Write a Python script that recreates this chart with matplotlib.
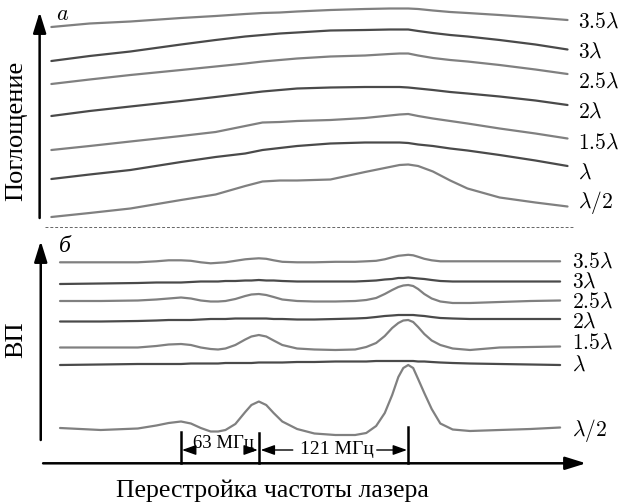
import matplotlib.pyplot as plt

plt.rcParams['mathtext.fontset'] = 'cm'
SERIF = 'Liberation Serif'

# laser detuning, MHz (0 = first resonance)
top_freq = [-105, -74, -41, 0, 28, 52, 66, 80, 94, 121, 149, 169, 177, 184, 192, 204,
            218, 232, 258, 287, 313]
bot_freq = [-98, -65, -35, -20, -10, 0, 8, 16, 24, 30, 36, 44, 52, 57, 63, 69, 75, 82, 94,
            108, 125, 141, 150, 158, 165, 171, 176, 180, 184, 188, 192, 197, 203, 210,
            220, 234, 258, 283, 307]

labels = [r'$3.5\lambda$', r'$3\lambda$', r'$2.5\lambda$', r'$2\lambda$',
          r'$1.5\lambda$', r'$\lambda$', r'$\lambda/2$']

# (a) absorption, arbitrary units, one row per cell length
absorp = [
    [0, 3.5, 5.5, 9, 11, 13, 14, 14.5, 15.5, 17, 18, 18.5, 18.5, 18.5, 18, 16.5, 15, 14,
     12, 9.5, 7],
    [0, 5, 9.5, 16.5, 21, 24.5, 26, 27.5, 28.5, 30.5, 31, 31.5, 31.5, 31.5, 30, 28, 26,
     24.5, 21, 16.5, 11.5],
    [0, 4.5, 9, 14, 17.5, 20.5, 22.5, 24, 25.5, 27.5, 28.5, 30, 30.5, 30.5, 28.5, 26, 24,
     22.5, 19, 14.5, 10],
    [0, 5, 9.5, 15, 19, 22.5, 24.5, 26, 27.5, 28.5, 29, 29, 29, 28.5, 27.5, 26, 24, 22.5,
     19.5, 15.5, 11],
    [0, 4, 8.5, 14, 18, 24, 27.5, 28, 29, 30, 32, 34.5, 35.5, 36, 34, 31.5, 29, 26.5,
     21.5, 16.5, 11.5],
    [0, 4.5, 9, 17, 22, 25.5, 29, 31, 33, 35.5, 36.5, 36.5, 36.5, 36, 34.5, 33, 30.5,
     28.5, 24, 18.5, 13],
    [0, 4, 8.5, 17, 22.5, 31, 35.5, 36.5, 36.5, 37.5, 45, 50, 52, 52.5, 51, 45.5, 36.5,
     28.5, 19.5, 14.5, 10.5],
]

# (b) selective reflection (ВП), arbitrary units
vp = [
    [0, 0, 0, 1, 2, 2, 1.5, 0, -1, -0.5, 0, 1.5, 3, 3.5, 4, 3.5, 2, 0.5, 0, 0, 0.5, 0.5,
     1, 1.5, 3, 5, 6.5, 7, 7.5, 7, 5.5, 3.5, 2, 1, 1, 1, 1, 1, 1],
    [0, 0.5, 1, 1.5, 1.5, 1.5, 2, 2.5, 2.5, 2.5, 3, 3, 3.5, 3.5, 4, 3.5, 3.5, 3, 2.5, 2.5,
     2.5, 2.5, 3, 3.5, 4.5, 5, 6, 6, 6.5, 6, 5.5, 5, 4, 3, 2.5, 2.5, 2.5, 2.5, 2.5],
    [0, 0, 0.5, 1.5, 2.5, 3.5, 2.5, 0.5, -0.5, -0.5, 0, 2, 5, 6.5, 7, 6, 4, 1.5, 0, -0.5,
     -0.5, 0, 1, 3, 7, 11, 14, 15.5, 16, 15, 12, 7, 2.5, -0.5, -2, -2, -1, 0, 0.5],
    [0, 0, 0.5, 1, 1.5, 1.5, 1.5, 2, 2.5, 2.5, 2.5, 3, 3, 3, 3, 3, 2.5, 2.5, 2, 2, 2.5, 3,
     3.5, 4.5, 5.5, 6, 6.5, 6.5, 6.5, 6.5, 6, 5.5, 4.5, 3.5, 3, 2.5, 2.5, 2.5, 2.5],
    [0, 0, 0, 1.5, 3, 3.5, 2.5, 0, -1.5, -2, -1, 2.5, 8, 11, 12.5, 11, 7, 2.5, -1, -2,
     -2.5, -2, 0.5, 4.5, 11.5, 19.5, 24.5, 27, 27.5, 25.5, 20.5, 13.5, 7, 2.5, -1, -2.5,
     0, 0.5, 1],
    [0, 0.5, 1, 1, 1, 1, 1.5, 1.5, 1.5, 1.5, 2, 2, 2, 2, 2.5, 2.5, 2.5, 2.5, 3, 3, 3.5,
     3.5, 3.5, 4, 4, 4, 4, 4, 4, 4, 3.5, 3.5, 3, 2.5, 2, 1.5, 1, 0.5, 0],
    [0, -2, -0.5, 2.5, 5, 6.5, 4.5, 0, -3.5, -3.5, -2, 4, 16, 23, 26.5, 23, 15, 6.5, -1,
     -5.5, -7, -7, -5, 2, 15, 33, 51, 60, 63, 60, 49, 35, 19, 4.5, -1.5, -3, -2, -1, 0.5],
]

marks = [0, 63, 184]  # resonance positions, MHz

# vertical layout
top_base = [477, 443, 420, 388, 354, 325, 287]
bot_base = [241.7, 220, 203, 182.5, 156.5, 139, 76]
top_lab_y = [482, 452, 422, 392, 361, 331, 301]
bot_lab_y = [242, 222, 202, 182, 161, 139, 74]
colors = ['#808080', '#4a4a4a'] * 3 + ['#808080']

fig = plt.figure(figsize=(6.2, 5.04), dpi=100)
ax = fig.add_axes([0, 0, 1, 1])
ax.set_xlim(-146.6, 355.5)
ax.set_ylim(0, 504)
ax.axis('off')

for sig, b, c in zip(absorp, top_base, colors):
    ax.plot(top_freq, [b + s for s in sig], color=c, lw=1.6,
            solid_capstyle='round', solid_joinstyle='round')
for sig, b, c in zip(vp, bot_base, colors):
    ax.plot(bot_freq, [b + s for s in sig], color=c, lw=1.6,
            solid_capstyle='round', solid_joinstyle='round')

for lab, y in zip(labels, top_lab_y):
    ax.text(321.5, y, lab, fontsize=15.5, va='center', ha='left')
for lab, y in zip(labels, bot_lab_y):
    ax.text(316.6, y, lab, fontsize=15.5, va='center', ha='left')

# axes arrows
big = dict(arrowstyle='-|>,head_length=0.9,head_width=0.28', color='k', lw=1.8,
           mutation_scale=14, shrinkA=0, shrinkB=0)
ax.annotate('', xy=(-114.5, 492), xytext=(-114.5, 286), arrowprops=big)
ax.annotate('', xy=(-113.6, 263), xytext=(-113.6, 64), arrowprops=big)
ax.annotate('', xy=(328, 40.7), xytext=(-111.7, 40.7), arrowprops=big)

ax.plot([-110, 317.4], [277, 277], color='#666666', lw=0.7, ls=(0, (3, 2)))

# resonance markers and spacing
for f, top in zip(marks, [72, 71, 77]):
    ax.plot([f, f], [40.7, top], color='k', lw=1.8)
small = dict(arrowstyle='-|>,head_length=0.7,head_width=0.25', color='k', lw=1.0,
             mutation_scale=12, shrinkA=0, shrinkB=0)
ax.annotate('', xy=(marks[0] + 0.8, 54), xytext=(11.5, 54), arrowprops=small)
ax.annotate('', xy=(marks[1] - 0.8, 54), xytext=(52, 54), arrowprops=small)
ax.annotate('', xy=(marks[1] + 1.5, 54), xytext=(90.5, 54), arrowprops=small)
ax.annotate('', xy=(marks[2] - 1.0, 54), xytext=(158.5, 54), arrowprops=small)
ax.text(34, 61, '63 МГц', family=SERIF, fontsize=13.5, ha='center', va='center')
ax.text(126, 55, '121 МГц', family=SERIF, fontsize=14, ha='center', va='center')

ax.text(-96, 490, r'$a$', fontsize=16, ha='center', va='center')
ax.text(-94, 257, 'б', family=SERIF, style='italic', fontsize=17, ha='center', va='center')

ax.text(-133.6, 373, 'Поглощение', family=SERIF, fontsize=19, rotation=90,
        ha='center', va='center')
ax.text(-133.6, 164, 'ВП', family=SERIF, fontsize=19, rotation=90,
        ha='center', va='center')
ax.text(73.7, 13, 'Перестройка частоты лазера', family=SERIF, fontsize=18.5,
        ha='center', va='center')

fig.savefig('out.png', dpi=100)
